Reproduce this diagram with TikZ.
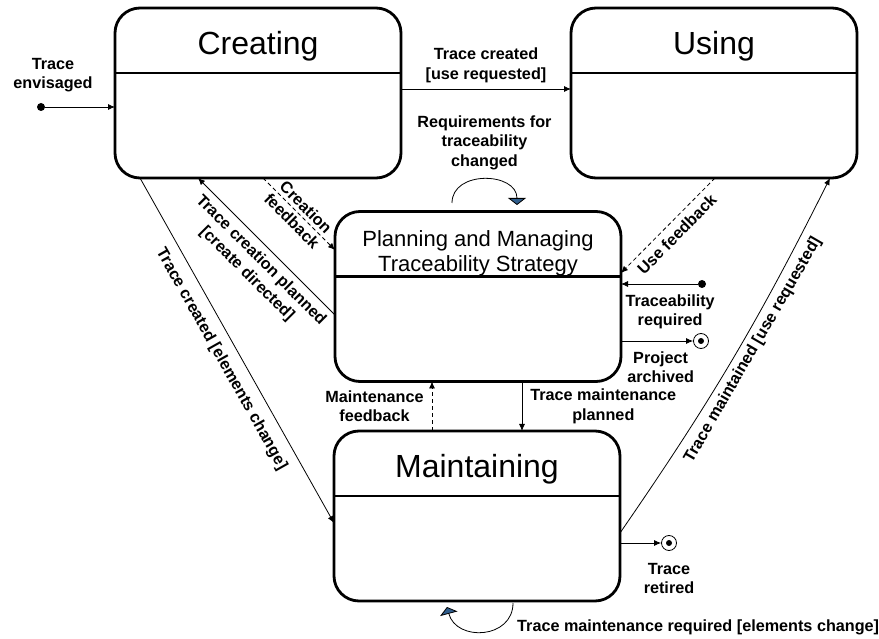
\documentclass[tikz,border=0pt]{standalone}
\usepackage{fontspec}
\setmainfont{Liberation Sans}
\usepackage{xcolor}
\usetikzlibrary{positioning,arrows.meta}
\definecolor{loopblue}{RGB}{47,93,140}
\begin{document}
\begin{tikzpicture}[x=1pt, y=1pt,
statebox/.style={draw, line width=2.8pt, rounded corners=25pt, outer sep=0pt, minimum width=286pt, minimum height=170pt},
divider/.style={line width=2.8pt},
bigtitle/.style={font=\fontsize{32}{38}\selectfont},
midtitle/.style={font=\fontsize{22}{25}\selectfont, align=center},
lbl/.style={font=\fontsize{16.2}{19.5}\selectfont\bfseries, align=center, inner sep=2pt},
arr/.style={-{Latex[length=7pt,width=6pt]}, line width=0.8pt},
fb/.style={arr, dash pattern=on 4pt off 3pt},
looparr/.style={-{Triangle[length=7pt,width=18pt,fill=loopblue]}, line width=0.8pt},
initdot/.style={circle, fill, inner sep=0pt, minimum size=8pt},
finalstate/.style={circle, draw, line width=0.8pt, inner sep=0pt, minimum size=15pt, path picture={\fill (path picture bounding box.center) circle (3pt);}}]
\useasboundingbox (0,0) rectangle (879,638);
\node[statebox] (creating) at (258,545) {};
\node[statebox] (using) at (714,545) {};
\node[statebox] (planning) at (478,341.5) {};
\node[statebox] (maintaining) at (477,122) {};
\node[bigtitle] (creatingtitle) at ([yshift=-38pt]creating.north) {Creating};
\node[bigtitle] (usingtitle) at ([yshift=-38pt]using.north) {Using};
\node[midtitle] (planningtitle) at ([yshift=-42pt]planning.north) {Planning and Managing\\Traceability Strategy};
\node[bigtitle] (maintainingtitle) at ([yshift=-38pt]maintaining.north) {Maintaining};
\draw[divider] ([yshift=-65pt]creating.north west) -- ([yshift=-65pt]creating.north east);
\draw[divider] ([yshift=-65pt]using.north west) -- ([yshift=-65pt]using.north east);
\draw[divider] ([yshift=-65pt]planning.north west) -- ([yshift=-65pt]planning.north east);
\draw[divider] ([yshift=-65pt]maintaining.north west) -- ([yshift=-65pt]maintaining.north east);
\node[initdot] (envisaged) at (41,531) {};
\node[lbl] (envisagedlabel) at (53,563) {Trace\\envisaged};
\draw[arr] (envisaged) -- (envisaged -| creating.west);
\draw[arr] ([yshift=4pt]creating.east) -- ([yshift=4pt]using.west) node[lbl, midway, above=4pt] (usereqlabel) {Trace created\\{}[use requested]};
\draw[looparr] ([xshift=-26pt,yshift=8.5pt]planning.north) to[out=90,in=90,looseness=1.3] node[lbl, above=7pt] (reqchangedlabel) {Requirements for\\traceability\\changed} ([xshift=39pt,yshift=6.5pt]planning.north);
\draw[fb] ([xshift=5pt]creating.south) -- ([yshift=46.5pt]planning.west) node[lbl, midway, sloped] (creationfblabel) {Creation\\feedback};
\draw[arr] ([yshift=-18.5pt]planning.west) -- ([xshift=-60pt]creating.south) node[lbl, pos=0.47, sloped, below=4pt] (creationplanlabel) {Trace creation planned\\{}[create directed]};
\draw[arr] ([xshift=-118pt]creating.south) -- ([yshift=-7pt]maintaining.west) node[lbl, midway, sloped, below=8pt] (elemchangelabel) {Trace created [elements change]};
\draw[fb] ([xshift=1pt]using.south) -- ([yshift=23.5pt]planning.east) node[lbl, midway, sloped, below=4pt] (usefblabel) {Use feedback};
\node[initdot] (required) at (702,354) {};
\draw[arr] (required) -- (required -| planning.east) node[lbl, pos=0.36, below=8pt] (requiredlabel) {Traceability\\required};
\node[finalstate] (archived) at (701,297) {};
\draw[arr] (archived -| planning.east) -- (archived) node[lbl, pos=0.55, below=8pt] (archivedlabel) {Project\\archived};
\draw[arr] ([xshift=44pt]planning.south) -- ([xshift=45pt]maintaining.north) node[lbl, midway, right=6pt] (maintplanlabel) {Trace maintenance\\planned};
\draw[fb] ([xshift=-45pt]maintaining.north) -- ([xshift=-46pt]planning.south) node[lbl, midway, left=6pt] (maintfblabel) {Maintenance\\feedback};
\draw[arr] ([yshift=-17pt]maintaining.east) to[bend right=4] node[lbl, pos=0.55, sloped, below=3pt] (maintusedlabel) {Trace maintained [use requested]} ([xshift=116pt]using.south);
\node[finalstate] (retired) at (669,95) {};
\draw[arr] (retired -| maintaining.east) -- (retired);
\node[lbl, below=10pt of retired] (retiredlabel) {Trace\\retired};
\draw[looparr] ([xshift=36pt,yshift=-2pt]maintaining.south) to[out=-90,in=-75,looseness=1.4] ([xshift=-30pt,yshift=-6pt]maintaining.south);
\node[lbl, anchor=west] (maintreqlabel) at (515,11) {Trace maintenance required [elements change]};
\end{tikzpicture}
\end{document}
